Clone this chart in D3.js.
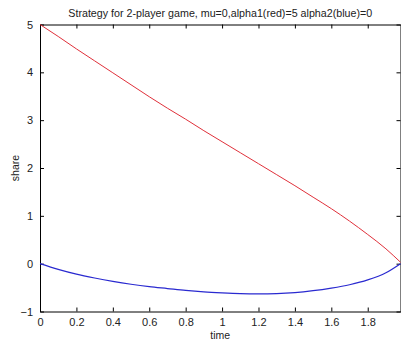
<!DOCTYPE html>
<html>
<head>
<meta charset="utf-8">
<script src="https://cdn.jsdelivr.net/npm/d3@7"></script>
<style>
  body { margin: 0; background: #fff; }
  text { font-family: "Liberation Sans", Arial, sans-serif; fill: #222; }
</style>
</head>
<body>
<div id="viz"></div>
<script>
// data
const time = [0, 0.1, 0.2, 0.3, 0.4, 0.5, 0.6, 0.7, 0.8, 0.9, 1.0, 1.1, 1.2, 1.3, 1.4, 1.5, 1.6, 1.7, 1.8, 1.9, 1.98];
const red = [5, 4.75, 4.49, 4.24, 3.99, 3.74, 3.49, 3.25, 3.02, 2.78, 2.55, 2.32, 2.09, 1.86, 1.63, 1.39, 1.15, 0.89, 0.61, 0.31, 0.03];
const blue = [0, -0.12, -0.22, -0.3, -0.37, -0.43, -0.48, -0.52, -0.56, -0.59, -0.61, -0.625, -0.63, -0.625, -0.605, -0.565, -0.51, -0.44, -0.34, -0.19, 0];
const xTicks = [0, 0.2, 0.4, 0.6, 0.8, 1, 1.2, 1.4, 1.6, 1.8];
const yTicks = [-1, 0, 1, 2, 3, 4, 5];

const W = 401, H = 341;
const mLeft = 40, mRight = 400.5, mTop = 24.5, mBottom = 311.5;

const svg = d3.select('#viz').append('svg')
  .attr('width', W)
  .attr('height', H);

const x = d3.scaleLinear().domain([0, 1.98]).range([mLeft, mRight]);
const y = d3.scaleLinear().domain([-1, 5]).range([mBottom, mTop]);

// axes box with inward ticks like matlab
const xAxisB = d3.axisBottom(x).tickValues(xTicks).tickSizeInner(-4).tickSizeOuter(0).tickPadding(7)
  .tickFormat(d => d);
const xAxisT = d3.axisTop(x).tickValues(xTicks).tickSizeInner(-4).tickSizeOuter(0).tickFormat('');
const yAxisL = d3.axisLeft(y).tickValues(yTicks).tickSizeInner(-4).tickSizeOuter(0).tickPadding(7)
  .tickFormat(d3.format('d'));
const yAxisR = d3.axisRight(y).tickValues(yTicks).tickSizeInner(-4).tickSizeOuter(0).tickFormat('');

function styleAxis(g) {
  g.select('.domain').attr('stroke', '#000');
  g.selectAll('.tick line').attr('stroke', '#000');
  g.selectAll('.tick text').style('font-size', '11px').attr('fill', '#222')
    .style('font-family', '"Liberation Sans", Arial, sans-serif');
}

svg.append('g').attr('transform', `translate(0,${mBottom})`).call(xAxisB).call(styleAxis);
svg.append('g').attr('transform', `translate(0,${mTop})`).call(xAxisT).call(styleAxis);
svg.append('g').attr('transform', `translate(${mLeft},0)`).call(yAxisL).call(styleAxis);
svg.append('g').attr('transform', `translate(${mRight},0)`).call(yAxisR).call(styleAxis);

// the two strategy curves
const line = d3.line()
  .x(d => x(d[0]))
  .y(d => y(d[1]))
  .curve(d3.curveMonotoneX);

svg.append('path')
  .datum(time.map((t, i) => [t, red[i]]))
  .attr('d', line)
  .attr('fill', 'none')
  .attr('stroke', '#e0303a')
  .attr('stroke-width', 1);

svg.append('path')
  .datum(time.map((t, i) => [t, blue[i]]))
  .attr('d', line)
  .attr('fill', 'none')
  .attr('stroke', '#2a2ad0')
  .attr('stroke-width', 1.2);

// labels
svg.append('text')
  .attr('x', (mLeft + mRight) / 2)
  .attr('y', 17)
  .attr('text-anchor', 'middle')
  .style('font-size', '10.7px')
  .text('Strategy for 2-player game, mu=0,alpha1(red)=5 alpha2(blue)=0');

svg.append('text')
  .attr('x', (mLeft + mRight) / 2)
  .attr('y', 339)
  .attr('text-anchor', 'middle')
  .style('font-size', '10.5px')
  .text('time');

svg.append('text')
  .attr('transform', `translate(19,${(mTop + mBottom) / 2}) rotate(-90)`)
  .attr('text-anchor', 'middle')
  .style('font-size', '10.5px')
  .text('share');
</script>
</body>
</html>
